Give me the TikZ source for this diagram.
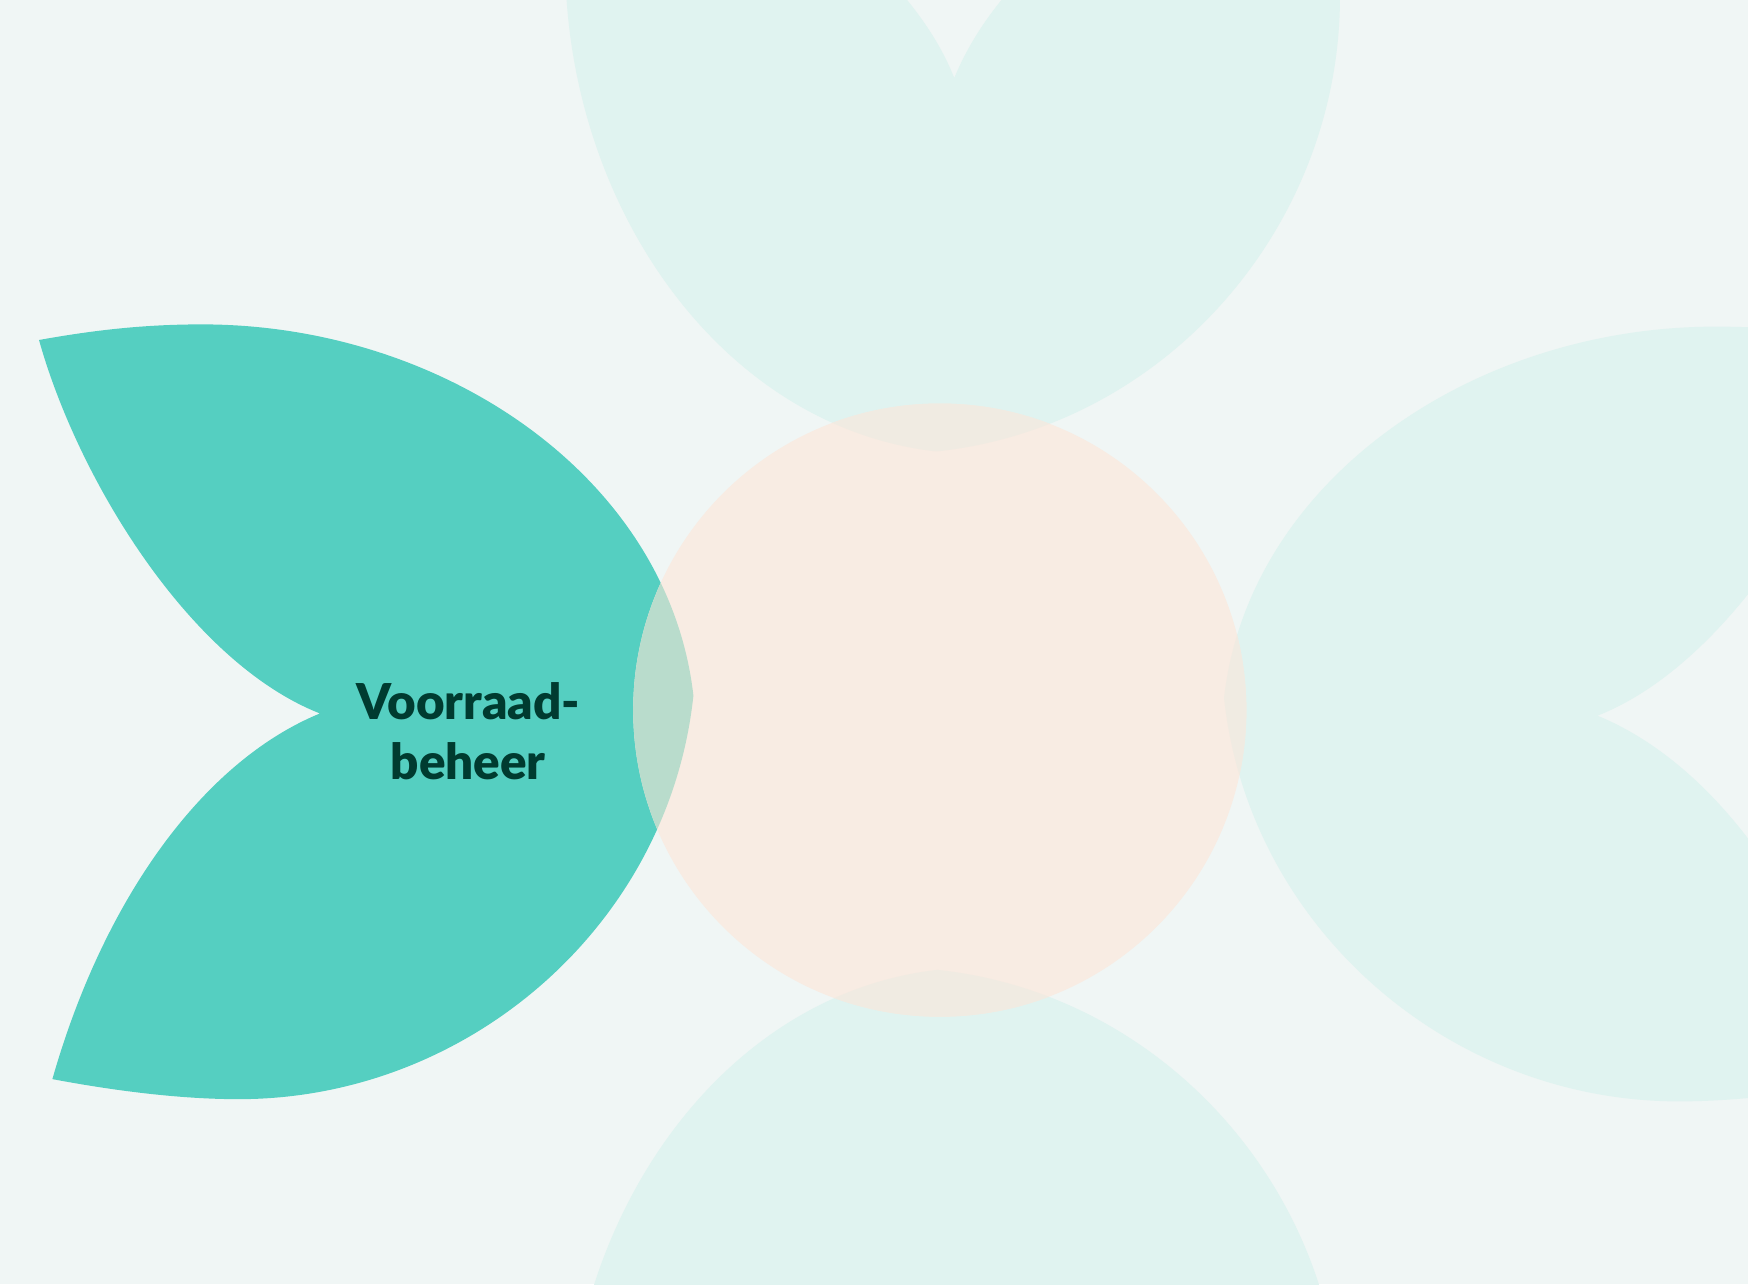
\documentclass[tikz,border=0pt]{standalone}
\usepackage{fontspec}
\setmainfont{Lato}
\newfontfamily\heavyfont{Lato Black}
\usepackage{xcolor}

\definecolor{bgmint}{HTML}{F0F6F5}
\definecolor{palemint}{HTML}{E0F3F0}
\definecolor{peach}{HTML}{F8ECE3}
\definecolor{teal}{HTML}{55CFC1}
\definecolor{tealpeach}{HTML}{B9DCCC}
\definecolor{palepeach}{HTML}{F0EBE2}
\definecolor{darkgreen}{HTML}{003B30}

% one petal, tip at the origin, pointing right
\newcommand{\petal}{(0,0) .. controls (-22,-194) and (-222,-333) .. (-441,-333)
	.. controls (-492,-333) and (-537,-328) .. (-587,-319)
	.. controls (-552,-194) and (-452,-30) .. (-335,16)
	.. controls (-442,60) and (-530,186) .. (-575,344)
	.. controls (-522,354) and (-462,362) .. (-408,362)
	.. controls (-202,362) and (-22,206) .. (0,0) -- cycle}

\begin{document}
\begin{tikzpicture}[x=0.1mm, y=-0.1mm,
		leftpetal/.style={shift={(622,624)}},
		toppetal/.style={shift={(840,405)}, cm={0,-1,-1,0,(0,0)}},
		rightpetal/.style={shift={(1098,626)}, xscale=-1},
		bottompetal/.style={shift={(841,870)}, rotate=90}]
	\useasboundingbox (0,0) rectangle (1568,1152);
	\fill[bgmint] (0,0) rectangle (1568,1152);
	\clip (0,0) rectangle (1568,1152);

	\fill[teal, leftpetal] \petal;
	\fill[palemint, toppetal] \petal;
	\fill[palemint, rightpetal] \petal;
	\fill[palemint, bottompetal] \petal;

	\fill[peach] (843,637) circle[radius=275];

	\begin{scope}
		\clip (843,637) circle[radius=275];
		\fill[tealpeach, leftpetal] \petal;
		\fill[palepeach, toppetal] \petal;
		\fill[palepeach, rightpetal] \petal;
		\fill[palepeach, bottompetal] \petal;
	\end{scope}

	\node[font=\heavyfont\fontsize{12.6}{15.1}\selectfont, text=darkgreen, align=center] (voorraad) at (420,656) {Voorraad-\\beheer};
\end{tikzpicture}
\end{document}
